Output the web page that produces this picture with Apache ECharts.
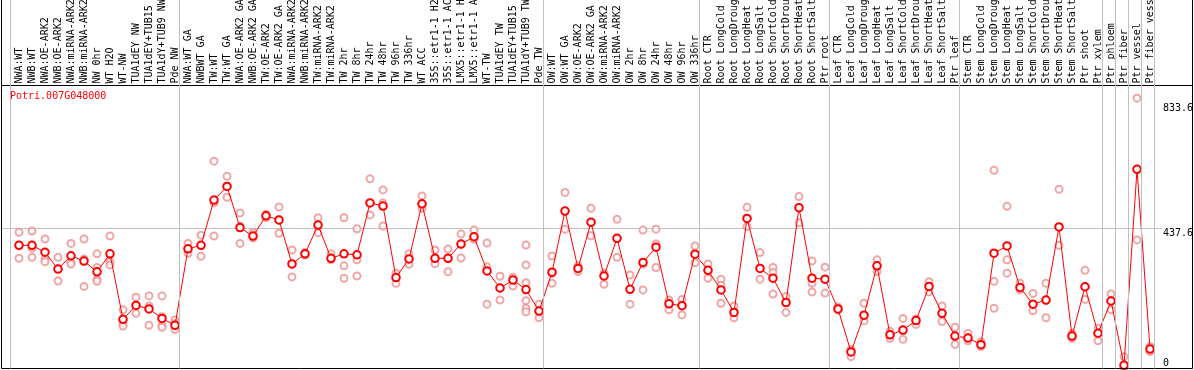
<!DOCTYPE html>
<html><head><meta charset="utf-8">
<script src="https://cdn.jsdelivr.net/npm/echarts@6/dist/echarts.min.js"></script>
<style>html,body{margin:0;padding:0;background:#fff}#c{width:1194px;height:370px}</style>
</head><body><div id="c"></div>
<script>
const chartTitle = 'Potri.007G048000';
const categories = [
 'NWA:WT','NWB:WT','NWA:OE-ARK2','NWB:OE-ARK2','NWA:miRNA-ARK2','NWB:miRNA-ARK2','NW 0hr','WT H2O','WT-NW','TUA1dEY NW','TUA1dEY+TUB15','TUA1dY+TUB9 NW','Pde NW',
 'NWA:WT GA','NWBWT GA','TW:WT','TW:WT GA','NWA:OE-ARK2 GA','NWB:OE-ARK2 GA','TW:OE-ARK2','TW:OE-ARK2 GA','NWA:miRNA-ARK2 GA','NWB:miRNA-ARK2 GA','TW:miRNA-ARK2','TW:miRNA-ARK2 GA',
 'TW 2hr','TW 8hr','TW 24hr','TW 48hr','TW 96hr','TW 336hr','WT ACC','35S::etr1-1 H2O','35S::etr1-1 ACC','LMX5::etr1-1 H2O','LMX5::etr1-1 ACC','WT-TW','TUA1dEY TW','TUA1dEY+TUB15','TUA1dY+TUB9 TW','Pde TW',
 'OW:WT','OW:WT GA','OW:OE-ARK2','OW:OE-ARK2 GA','OW:miRNA-ARK2','OW:miRNA-ARK2 GA','OW 2hr','OW 8hr','OW 24hr','OW 48hr','OW 96hr','OW 336hr',
 'Root CTR','Root LongCold','Root LongDrought','Root LongHeat','Root LongSalt','Root ShortCold','Root ShortDrought','Root ShortHeat','Root ShortSalt','Ptr root',
 'Leaf CTR','Leaf LongCold','Leaf LongDrought','Leaf LongHeat','Leaf LongSalt','Leaf ShortCold','Leaf ShortDrought','Leaf ShortHeat','Leaf ShortSalt','Ptr leaf',
 'Stem CTR','Stem LongCold','Stem LongDrought','Stem LongHeat','Stem LongSalt','Stem ShortCold','Stem ShortDrought','Stem ShortHeat','Stem ShortSalt','Ptr shoot',
 'Ptr xylem','Ptr phloem','Ptr fiber','Ptr vessel','Ptr fiber vessel'
];
const groupSizes = [13, 28, 12, 10, 10, 11, 1, 1, 1, 1];
const meanValues = [
 384,384,362,309,351,334,300,357,150,194,183,153,131,
 373,384,527,570,440,413,477,464,325,357,448,343,357,354,518,508,282,341,515,343,343,388,411,303,249,274,244,176,
 299,492,311,457,287,406,245,330,378,199,193,356,
 305,243,172,469,311,280,203,503,280,277,
 183,47,163,319,101,116,146,254,169,97,
 91,70,359,382,251,198,211,442,97,253,
 106,208,5,624,56
];
const replicates = [
 [425,343,384],[429,346,375],[404,341,332],[346,271,310],[390,329,325],[404,341,254],[357,314,277,270],[413,332,322],[180,137,129],[220,169,194],[224,192,131],[224,158,131,125],[148,118,137],
 [390,359,372],[416,349,384],[650,518,413],[602,536,570],[486,390,444],[424,407,413],[482,472,477],[505,422,464],[369,284,325],[361,353,357],[471,424,448],[357,338,343],
 [471,319,280],[436,338,287],[594,480,518],[559,518,445],[296,264,282],[357,324,341],[540,501,515],[369,326,343],[372,300,343],[420,344,388],[432,403,411],[391,316,198],[286,211,249],[283,255,274],[385,322,266,209,185,174],[198,155,176],
 [350,295,264],[551,435,492],[319,301,311],[501,414,457],[296,261,287],[466,346,406],[290,198,245],[432,325,243],[435,388,314],[211,180,199],[213,164,193],[382,329,356],
 [325,280,305],[277,258,201],[192,155,172],[504,443,469],[361,277,311],[314,298,230],[222,172,203],[538,455,503],[334,264,236],[315,233,277],
 [189,179,183],[55,32,47],[201,145,163],[338,301,319],[112,90,101],[153,87,116],[151,134,146],[269,237,254],[192,143,169],[125,71,97],
 [106,82,91],[79,64,70],[621,270,185],[507,338,296],[264,243,251],[232,177,198],[264,155,211],[561,384,442],[106,90,97],[305,213,253],
 [122,82,106],[230,180,208],[32,0,0],[849,401,624],[64,48,56]
];
const yTickLabels = [437.6, 833.6];
const yZeroLabel = [0];
const gridValue = 437.6;

const mono = 'DejaVu Sans Mono';
const xMin = -17.5/13, xMax = xMin + 1160.5/13;
const idx = categories.map((_, i) => i);
const seps = [];
let acc = -1; seps.push(acc + 0.35);
groupSizes.forEach(s => { acc += s; seps.push(acc + 0.35); });

const repData = [];
replicates.forEach((arr, i) => arr.forEach(v => repData.push([i, v])));

const chart = echarts.init(document.getElementById('c'), null, {renderer: 'canvas'});
const hiddenVal = g => ({gridIndex: g, type: 'value', show: false});
const noOuter = {outerBoundsMode: 'none', containLabel: false};
chart.setOption({
  animation: false,
  backgroundColor: '#fff',
  title: {text: chartTitle, left: 10, top: 91, padding: 0,
    textStyle: {color: '#ff0000', fontSize: 10, fontWeight: 'normal', fontFamily: mono}},
  grid: [
    Object.assign({left: 1.5, right: 1.5, top: 85.5, bottom: 1.5, show: true, borderColor: '#000', borderWidth: 1, backgroundColor: 'transparent', z: 5}, noOuter),
    Object.assign({left: 1.5, right: 1.5, top: -10, height: 95.5, show: true, borderColor: '#000', borderWidth: 1, backgroundColor: 'transparent', z: 5}, noOuter),
    Object.assign({left: 1.5, right: 32, top: 85.5, bottom: 3.2}, noOuter),
    Object.assign({left: 1.5, right: 32, top: 0, bottom: 1.5}, noOuter)
  ],
  xAxis: [
    hiddenVal(0), hiddenVal(1),
    {gridIndex: 2, type: 'value', min: xMin, max: xMax, show: false},
    {gridIndex: 2, type: 'value', min: xMin, max: xMax, position: 'top',
      axisLine: {show: false}, axisTick: {show: false}, splitLine: {show: false},
      axisLabel: {customValues: idx, rotate: -90, align: 'left', verticalAlign: 'middle', margin: 2,
        fontSize: 10, fontFamily: mono, color: '#000',
        formatter: v => categories[Math.round(v)]}},
    {gridIndex: 3, type: 'value', min: xMin, max: xMax, show: false}
  ],
  yAxis: [
    hiddenVal(0), hiddenVal(1),
    {gridIndex: 2, type: 'value', min: 0, max: 889, position: 'right',
      axisLine: {show: false}, axisTick: {show: false}, splitLine: {show: false},
      axisLabel: {customValues: yTickLabels, verticalAlign: 'top', margin: 1, fontSize: 10, fontFamily: mono, color: '#000',
        formatter: v => String(v)}},
    {gridIndex: 3, type: 'value', min: 0, max: 1, position: 'right',
      axisLine: {show: false}, axisTick: {show: false}, splitLine: {show: false},
      axisLabel: {customValues: yZeroLabel, verticalAlign: 'bottom', margin: 1, fontSize: 10, fontFamily: mono, color: '#000',
        formatter: v => String(v)}}
  ],
  series: [
    {type: 'line', xAxisIndex: 4, yAxisIndex: 3, data: [[0, -1]], showSymbol: false, silent: true, z: 0,
      lineStyle: {opacity: 0},
      markLine: {silent: true, symbol: 'none', animation: false, label: {show: false},
        lineStyle: {color: '#c0c0c0', width: 1, type: 'solid'},
        data: seps.map(v => ({xAxis: v}))}},
    {type: 'scatter', xAxisIndex: 2, yAxisIndex: 2, data: repData, symbol: 'emptyCircle', symbolSize: 7,
      clip: false, z: 2, itemStyle: {color: '#ee9090', borderColor: '#ee9090', borderWidth: 1}},
    {type: 'line', xAxisIndex: 2, yAxisIndex: 2, data: meanValues.map((v, i) => [i, v]),
      symbol: 'emptyCircle', symbolSize: 7.5, showAllSymbol: true, clip: false, z: 3,
      lineStyle: {color: '#ff0000', width: 1}, itemStyle: {color: '#ff0000', borderColor: '#ff0000', borderWidth: 1.4},
      markLine: {silent: true, symbol: 'none', animation: false, label: {show: false}, z: 1,
        lineStyle: {color: '#c0c0c0', width: 1, type: 'solid'},
        data: [{yAxis: gridValue}]}}
  ]
});
</script>
</body></html>
